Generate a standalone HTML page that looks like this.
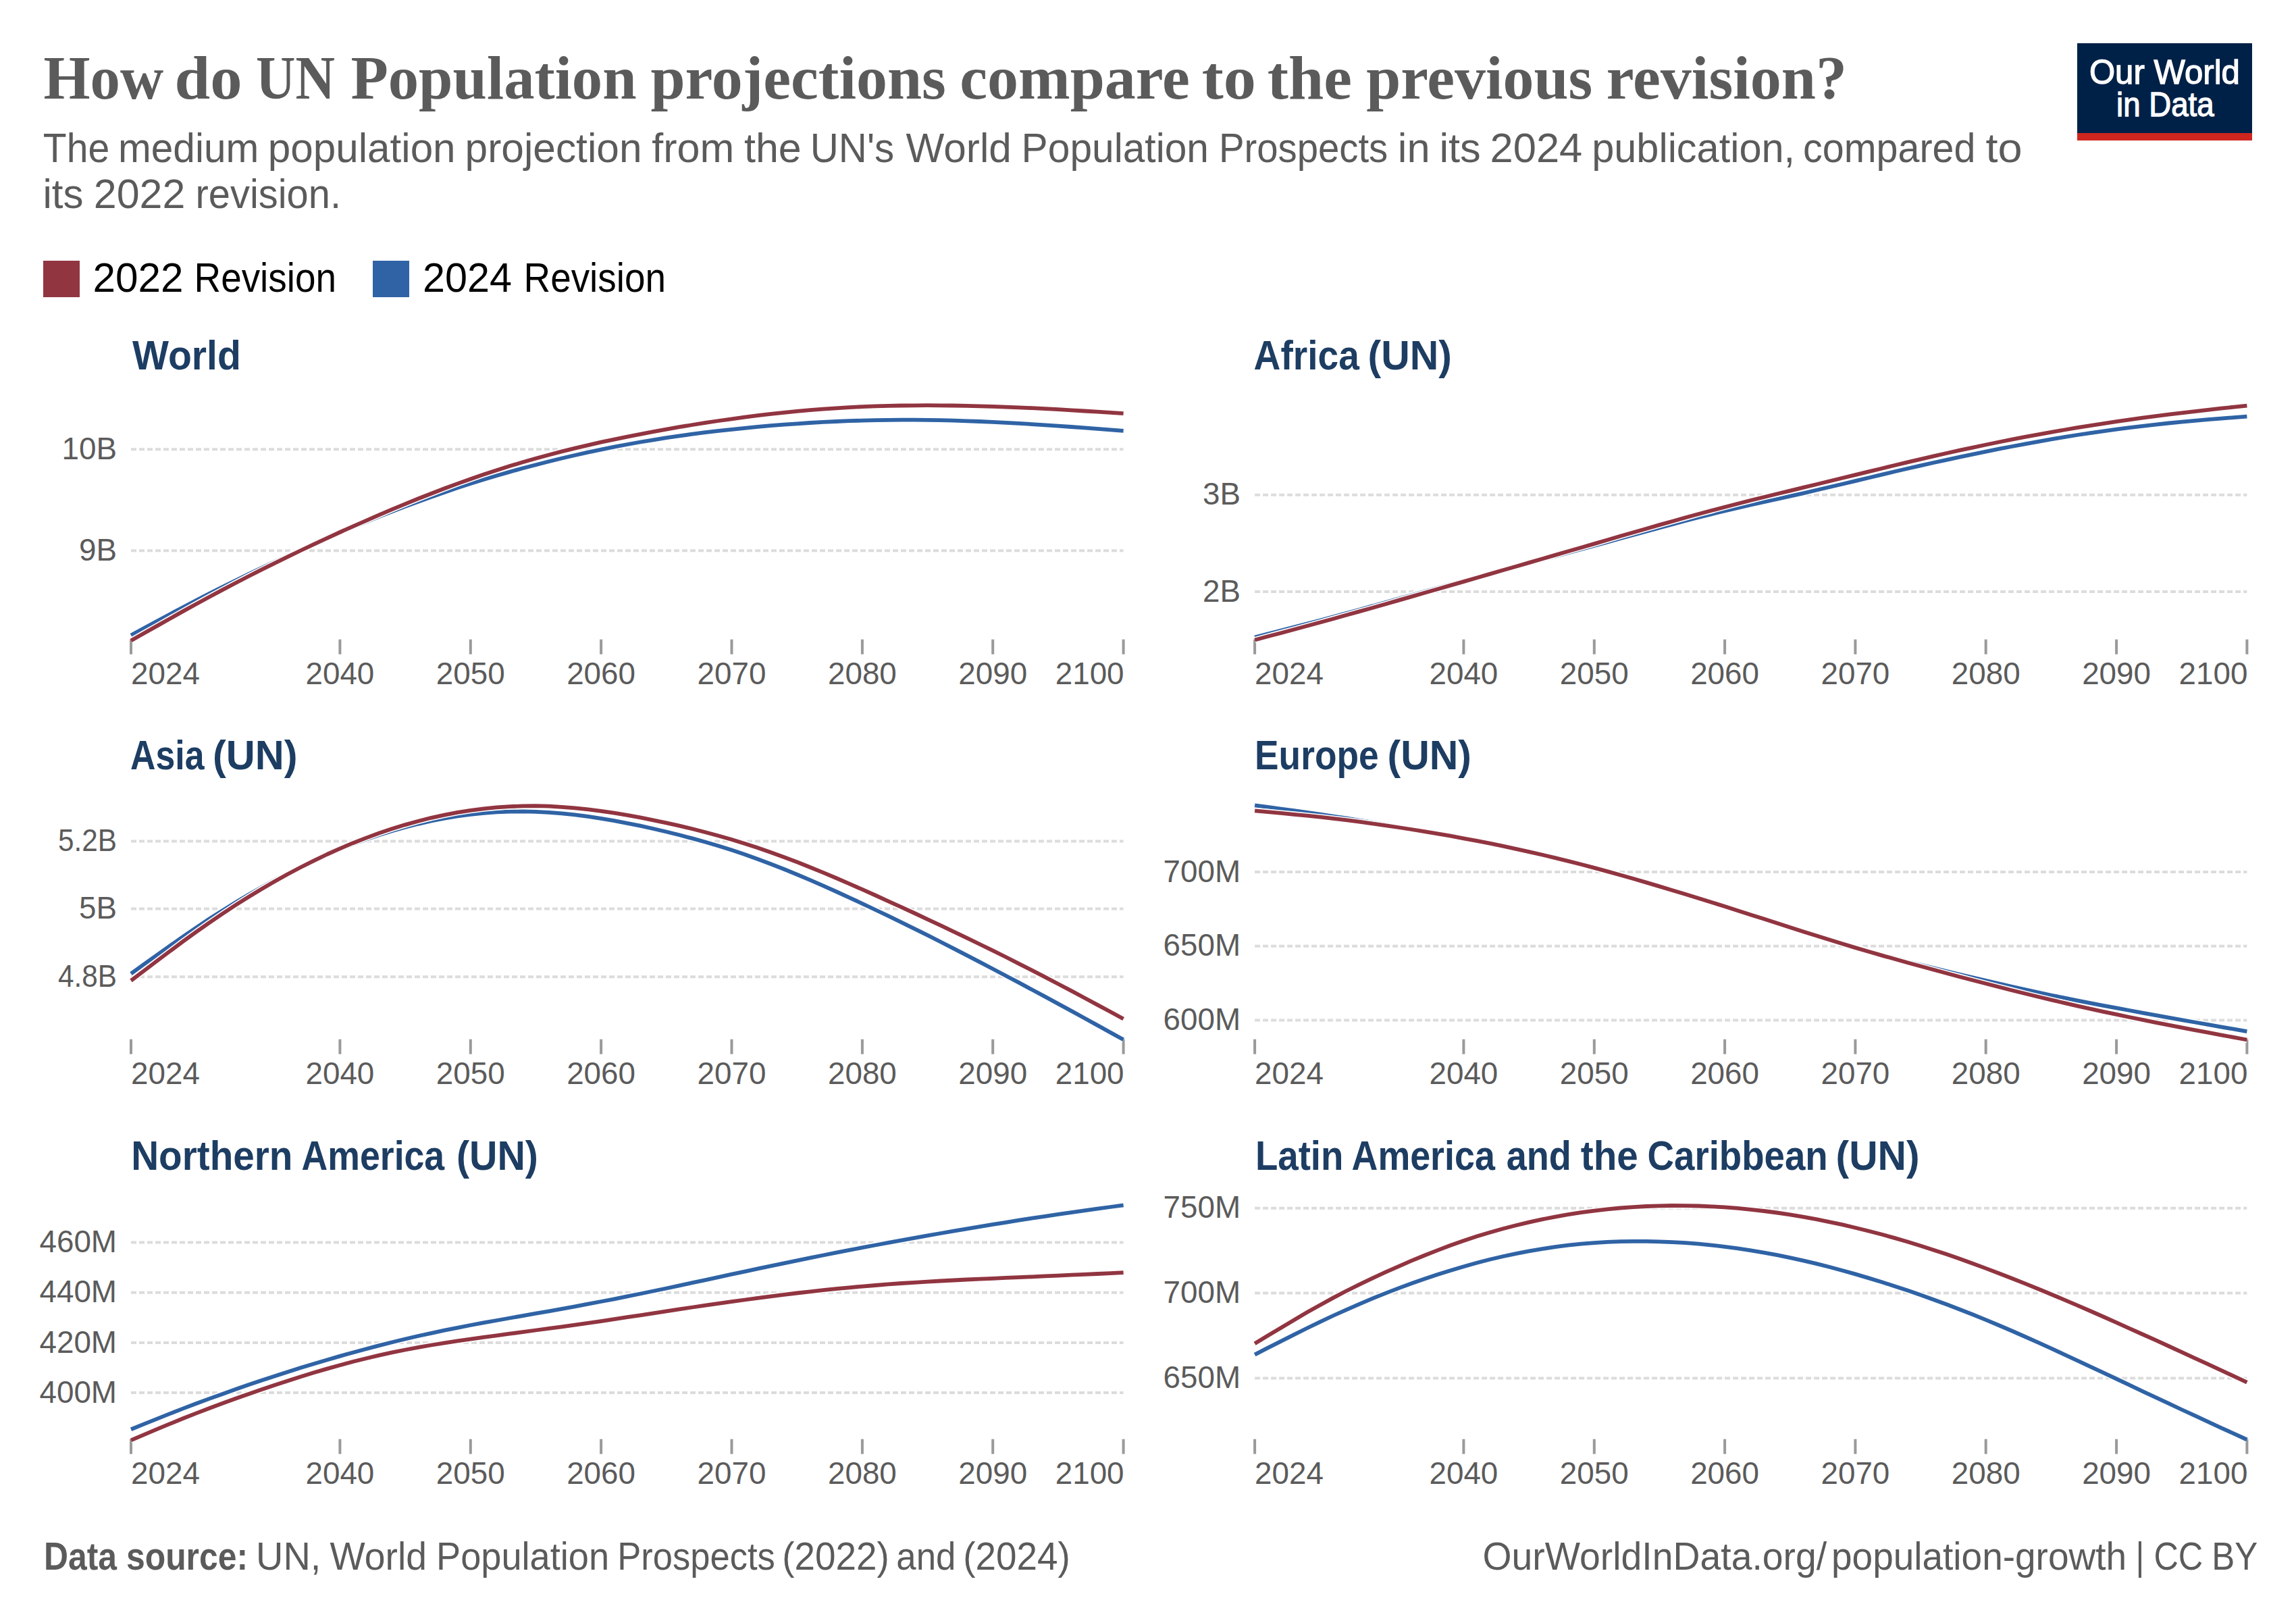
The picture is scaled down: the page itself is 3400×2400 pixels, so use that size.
<!DOCTYPE html><html><head><meta charset="utf-8"><style>html,body{margin:0;padding:0;background:#fff;width:3400px;height:2400px;overflow:hidden}svg{display:block}</style></head><body>
<svg width="3400" height="2400" viewBox="0 0 3400 2400" font-family="Liberation Sans, sans-serif">
<rect width="3400" height="2400" fill="#fff"/>
<text x="64.50" y="146.0" font-family="Liberation Serif, serif" font-weight="bold" font-size="92" fill="#5b5b5b" textLength="177.60" lengthAdjust="spacingAndGlyphs">How</text>
<text x="258.60" y="146.0" font-family="Liberation Serif, serif" font-weight="bold" font-size="92" fill="#5b5b5b" textLength="99.90" lengthAdjust="spacingAndGlyphs">do</text>
<text x="379.00" y="146.0" font-family="Liberation Serif, serif" font-weight="bold" font-size="92" fill="#5b5b5b" textLength="116.80" lengthAdjust="spacingAndGlyphs">UN</text>
<text x="519.40" y="146.0" font-family="Liberation Serif, serif" font-weight="bold" font-size="92" fill="#5b5b5b" textLength="423.20" lengthAdjust="spacingAndGlyphs">Population</text>
<text x="963.40" y="146.0" font-family="Liberation Serif, serif" font-weight="bold" font-size="92" fill="#5b5b5b" textLength="437.40" lengthAdjust="spacingAndGlyphs">projections</text>
<text x="1421.20" y="146.0" font-family="Liberation Serif, serif" font-weight="bold" font-size="92" fill="#5b5b5b" textLength="340.60" lengthAdjust="spacingAndGlyphs">compare</text>
<text x="1779.70" y="146.0" font-family="Liberation Serif, serif" font-weight="bold" font-size="92" fill="#5b5b5b" textLength="80.20" lengthAdjust="spacingAndGlyphs">to</text>
<text x="1876.70" y="146.0" font-family="Liberation Serif, serif" font-weight="bold" font-size="92" fill="#5b5b5b" textLength="125.20" lengthAdjust="spacingAndGlyphs">the</text>
<text x="2023.20" y="146.0" font-family="Liberation Serif, serif" font-weight="bold" font-size="92" fill="#5b5b5b" textLength="335.00" lengthAdjust="spacingAndGlyphs">previous</text>
<text x="2378.70" y="146.0" font-family="Liberation Serif, serif" font-weight="bold" font-size="92" fill="#5b5b5b" textLength="356.40" lengthAdjust="spacingAndGlyphs">revision?</text>
<text x="63.80" y="239.5" font-size="60.5" fill="#5b5b5b" textLength="98.40" lengthAdjust="spacingAndGlyphs">The</text>
<text x="175.00" y="239.5" font-size="60.5" fill="#5b5b5b" textLength="208.30" lengthAdjust="spacingAndGlyphs">medium</text>
<text x="396.80" y="239.5" font-size="60.5" fill="#5b5b5b" textLength="277.80" lengthAdjust="spacingAndGlyphs">population</text>
<text x="688.60" y="239.5" font-size="60.5" fill="#5b5b5b" textLength="261.90" lengthAdjust="spacingAndGlyphs">projection</text>
<text x="965.30" y="239.5" font-size="60.5" fill="#5b5b5b" textLength="121.90" lengthAdjust="spacingAndGlyphs">from</text>
<text x="1102.00" y="239.5" font-size="60.5" fill="#5b5b5b" textLength="84.80" lengthAdjust="spacingAndGlyphs">the</text>
<text x="1199.70" y="239.5" font-size="60.5" fill="#5b5b5b" textLength="124.50" lengthAdjust="spacingAndGlyphs">UN&#39;s</text>
<text x="1341.50" y="239.5" font-size="60.5" fill="#5b5b5b" textLength="156.30" lengthAdjust="spacingAndGlyphs">World</text>
<text x="1512.60" y="239.5" font-size="60.5" fill="#5b5b5b" textLength="277.40" lengthAdjust="spacingAndGlyphs">Population</text>
<text x="1804.90" y="239.5" font-size="60.5" fill="#5b5b5b" textLength="250.30" lengthAdjust="spacingAndGlyphs">Prospects</text>
<text x="2069.80" y="239.5" font-size="60.5" fill="#5b5b5b" textLength="47.80" lengthAdjust="spacingAndGlyphs">in</text>
<text x="2131.40" y="239.5" font-size="60.5" fill="#5b5b5b" textLength="61.30" lengthAdjust="spacingAndGlyphs">its</text>
<text x="2206.50" y="239.5" font-size="60.5" fill="#5b5b5b" textLength="136.80" lengthAdjust="spacingAndGlyphs">2024</text>
<text x="2357.20" y="239.5" font-size="60.5" fill="#5b5b5b" textLength="300.90" lengthAdjust="spacingAndGlyphs">publication,</text>
<text x="2670.10" y="239.5" font-size="60.5" fill="#5b5b5b" textLength="255.30" lengthAdjust="spacingAndGlyphs">compared</text>
<text x="2940.60" y="239.5" font-size="60.5" fill="#5b5b5b" textLength="54.10" lengthAdjust="spacingAndGlyphs">to</text>
<text x="63.40" y="308.4" font-size="60.5" fill="#5b5b5b" textLength="60.00" lengthAdjust="spacingAndGlyphs">its</text>
<text x="138.80" y="308.4" font-size="60.5" fill="#5b5b5b" textLength="135.60" lengthAdjust="spacingAndGlyphs">2022</text>
<text x="289.60" y="308.4" font-size="60.5" fill="#5b5b5b" textLength="215.40" lengthAdjust="spacingAndGlyphs">revision.</text>
<rect x="3076" y="64" width="259" height="133" fill="#002147"/>
<rect x="3076" y="197" width="259" height="11" fill="#ce261e"/>
<text x="3205.4" y="124" text-anchor="middle" font-size="50" font-weight="normal" fill="#fff" stroke="#fff" stroke-width="1.3" textLength="223" lengthAdjust="spacingAndGlyphs">Our World</text>
<text x="3206.3" y="172" text-anchor="middle" font-size="50" font-weight="normal" fill="#fff" stroke="#fff" stroke-width="1.3" textLength="144.5" lengthAdjust="spacingAndGlyphs">in Data</text>
<rect x="64" y="386" width="54" height="54" fill="#913541"/>
<text x="137.5" y="432" font-size="61" fill="#000" textLength="134" lengthAdjust="spacingAndGlyphs">2022</text>
<text x="287.5" y="432" font-size="61" fill="#000" textLength="210.5" lengthAdjust="spacingAndGlyphs">Revision</text>
<rect x="552" y="386" width="54" height="54" fill="#2f63a5"/>
<text x="626" y="432" font-size="61" fill="#000" textLength="132" lengthAdjust="spacingAndGlyphs">2024</text>
<text x="775.5" y="432" font-size="61" fill="#000" textLength="210.5" lengthAdjust="spacingAndGlyphs">Revision</text>
<line x1="194.0" y1="665.2" x2="1663.6" y2="665.2" stroke="#dcdcdc" stroke-width="4" stroke-dasharray="8,4"/>
<text x="173.0" y="679.8" text-anchor="end" font-size="45.8" fill="#5b5b5b">10B</text>
<line x1="194.0" y1="815.2" x2="1663.6" y2="815.2" stroke="#dcdcdc" stroke-width="4" stroke-dasharray="8,4"/>
<text x="173.0" y="829.8" text-anchor="end" font-size="45.8" fill="#5b5b5b">9B</text>
<rect x="192.0" y="946.7" width="4" height="22" fill="#9a9a9a"/>
<text x="194.0" y="1012.7" text-anchor="start" font-size="45.8" fill="#5b5b5b">2024</text>
<rect x="501.4" y="946.7" width="4" height="22" fill="#9a9a9a"/>
<text x="503.4" y="1012.7" text-anchor="middle" font-size="45.8" fill="#5b5b5b">2040</text>
<rect x="694.8" y="946.7" width="4" height="22" fill="#9a9a9a"/>
<text x="696.8" y="1012.7" text-anchor="middle" font-size="45.8" fill="#5b5b5b">2050</text>
<rect x="888.1" y="946.7" width="4" height="22" fill="#9a9a9a"/>
<text x="890.1" y="1012.7" text-anchor="middle" font-size="45.8" fill="#5b5b5b">2060</text>
<rect x="1081.5" y="946.7" width="4" height="22" fill="#9a9a9a"/>
<text x="1083.5" y="1012.7" text-anchor="middle" font-size="45.8" fill="#5b5b5b">2070</text>
<rect x="1274.9" y="946.7" width="4" height="22" fill="#9a9a9a"/>
<text x="1276.9" y="1012.7" text-anchor="middle" font-size="45.8" fill="#5b5b5b">2080</text>
<rect x="1468.2" y="946.7" width="4" height="22" fill="#9a9a9a"/>
<text x="1470.2" y="1012.7" text-anchor="middle" font-size="45.8" fill="#5b5b5b">2090</text>
<rect x="1661.6" y="946.7" width="4" height="22" fill="#9a9a9a"/>
<text x="1664.6" y="1012.7" text-anchor="end" font-size="45.8" fill="#5b5b5b">2100</text>
<path d="M194.0,940.5L213.3,930.0L232.7,919.6L252.0,909.2L271.3,899.0L290.7,888.8L310.0,878.9L329.4,869.1L348.7,859.5L368.0,850.2L387.4,840.9L406.7,831.8L426.0,822.9L445.4,814.2L464.7,805.5L484.1,797.1L503.4,788.8L522.7,780.7L542.1,772.7L561.4,764.9L580.7,757.3L600.1,749.9L619.4,742.7L638.7,735.7L658.1,728.9L677.4,722.3L696.8,716.1L716.1,710.0L735.4,704.2L754.8,698.6L774.1,693.3L793.4,688.2L812.8,683.2L832.1,678.5L851.5,674.0L870.8,669.7L890.1,665.6L909.5,661.7L928.8,658.0L948.1,654.5L967.5,651.3L986.8,648.2L1006.1,645.4L1025.5,642.7L1044.8,640.2L1064.2,637.9L1083.5,635.8L1102.8,633.8L1122.2,631.9L1141.5,630.2L1160.8,628.7L1180.2,627.3L1199.5,626.0L1218.9,624.9L1238.2,624.0L1257.5,623.2L1276.9,622.6L1296.2,622.1L1315.5,621.8L1334.9,621.7L1354.2,621.7L1373.5,621.9L1392.9,622.2L1412.2,622.7L1431.6,623.3L1450.9,624.0L1470.2,624.9L1489.6,625.8L1508.9,626.9L1528.2,628.1L1547.6,629.3L1566.9,630.6L1586.3,632.0L1605.6,633.4L1624.9,634.8L1644.3,636.3L1663.6,637.8" fill="none" stroke="#fff" stroke-width="9.0" stroke-linejoin="round"/>
<path d="M194.0,940.5L213.3,930.0L232.7,919.6L252.0,909.2L271.3,899.0L290.7,888.8L310.0,878.9L329.4,869.1L348.7,859.5L368.0,850.2L387.4,840.9L406.7,831.8L426.0,822.9L445.4,814.2L464.7,805.5L484.1,797.1L503.4,788.8L522.7,780.7L542.1,772.7L561.4,764.9L580.7,757.3L600.1,749.9L619.4,742.7L638.7,735.7L658.1,728.9L677.4,722.3L696.8,716.1L716.1,710.0L735.4,704.2L754.8,698.6L774.1,693.3L793.4,688.2L812.8,683.2L832.1,678.5L851.5,674.0L870.8,669.7L890.1,665.6L909.5,661.7L928.8,658.0L948.1,654.5L967.5,651.3L986.8,648.2L1006.1,645.4L1025.5,642.7L1044.8,640.2L1064.2,637.9L1083.5,635.8L1102.8,633.8L1122.2,631.9L1141.5,630.2L1160.8,628.7L1180.2,627.3L1199.5,626.0L1218.9,624.9L1238.2,624.0L1257.5,623.2L1276.9,622.6L1296.2,622.1L1315.5,621.8L1334.9,621.7L1354.2,621.7L1373.5,621.9L1392.9,622.2L1412.2,622.7L1431.6,623.3L1450.9,624.0L1470.2,624.9L1489.6,625.8L1508.9,626.9L1528.2,628.1L1547.6,629.3L1566.9,630.6L1586.3,632.0L1605.6,633.4L1624.9,634.8L1644.3,636.3L1663.6,637.8" fill="none" stroke="#2f63a5" stroke-width="5.8" stroke-linejoin="round"/>
<path d="M194.0,948.5L213.3,937.5L232.7,926.6L252.0,915.7L271.3,904.9L290.7,894.3L310.0,883.8L329.4,873.4L348.7,863.2L368.0,853.2L387.4,843.4L406.7,833.8L426.0,824.3L445.4,815.0L464.7,805.9L484.1,796.9L503.4,788.0L522.7,779.3L542.1,770.8L561.4,762.4L580.7,754.2L600.1,746.1L619.4,738.3L638.7,730.7L658.1,723.3L677.4,716.1L696.8,709.2L716.1,702.6L735.4,696.2L754.8,690.1L774.1,684.3L793.4,678.7L812.8,673.5L832.1,668.4L851.5,663.6L870.8,659.1L890.1,654.7L909.5,650.6L928.8,646.6L948.1,642.8L967.5,639.1L986.8,635.6L1006.1,632.2L1025.5,629.0L1044.8,625.9L1064.2,623.0L1083.5,620.3L1102.8,617.7L1122.2,615.2L1141.5,612.9L1160.8,610.8L1180.2,608.9L1199.5,607.1L1218.9,605.6L1238.2,604.3L1257.5,603.1L1276.9,602.2L1296.2,601.4L1315.5,600.9L1334.9,600.5L1354.2,600.3L1373.5,600.2L1392.9,600.3L1412.2,600.5L1431.6,600.9L1450.9,601.3L1470.2,601.9L1489.6,602.6L1508.9,603.4L1528.2,604.2L1547.6,605.2L1566.9,606.2L1586.3,607.3L1605.6,608.5L1624.9,609.7L1644.3,610.9L1663.6,612.2" fill="none" stroke="#fff" stroke-width="9.0" stroke-linejoin="round"/>
<path d="M194.0,948.5L213.3,937.5L232.7,926.6L252.0,915.7L271.3,904.9L290.7,894.3L310.0,883.8L329.4,873.4L348.7,863.2L368.0,853.2L387.4,843.4L406.7,833.8L426.0,824.3L445.4,815.0L464.7,805.9L484.1,796.9L503.4,788.0L522.7,779.3L542.1,770.8L561.4,762.4L580.7,754.2L600.1,746.1L619.4,738.3L638.7,730.7L658.1,723.3L677.4,716.1L696.8,709.2L716.1,702.6L735.4,696.2L754.8,690.1L774.1,684.3L793.4,678.7L812.8,673.5L832.1,668.4L851.5,663.6L870.8,659.1L890.1,654.7L909.5,650.6L928.8,646.6L948.1,642.8L967.5,639.1L986.8,635.6L1006.1,632.2L1025.5,629.0L1044.8,625.9L1064.2,623.0L1083.5,620.3L1102.8,617.7L1122.2,615.2L1141.5,612.9L1160.8,610.8L1180.2,608.9L1199.5,607.1L1218.9,605.6L1238.2,604.3L1257.5,603.1L1276.9,602.2L1296.2,601.4L1315.5,600.9L1334.9,600.5L1354.2,600.3L1373.5,600.2L1392.9,600.3L1412.2,600.5L1431.6,600.9L1450.9,601.3L1470.2,601.9L1489.6,602.6L1508.9,603.4L1528.2,604.2L1547.6,605.2L1566.9,606.2L1586.3,607.3L1605.6,608.5L1624.9,609.7L1644.3,610.9L1663.6,612.2" fill="none" stroke="#913541" stroke-width="5.8" stroke-linejoin="round"/>
<line x1="1858.1" y1="732.7" x2="3327.4" y2="732.7" stroke="#dcdcdc" stroke-width="4" stroke-dasharray="8,4"/>
<text x="1837.1" y="747.3" text-anchor="end" font-size="45.8" fill="#5b5b5b">3B</text>
<line x1="1858.1" y1="876.1" x2="3327.4" y2="876.1" stroke="#dcdcdc" stroke-width="4" stroke-dasharray="8,4"/>
<text x="1837.1" y="890.7" text-anchor="end" font-size="45.8" fill="#5b5b5b">2B</text>
<rect x="1856.1" y="946.7" width="4" height="22" fill="#9a9a9a"/>
<text x="1858.1" y="1012.7" text-anchor="start" font-size="45.8" fill="#5b5b5b">2024</text>
<rect x="2165.4" y="946.7" width="4" height="22" fill="#9a9a9a"/>
<text x="2167.4" y="1012.7" text-anchor="middle" font-size="45.8" fill="#5b5b5b">2040</text>
<rect x="2358.8" y="946.7" width="4" height="22" fill="#9a9a9a"/>
<text x="2360.8" y="1012.7" text-anchor="middle" font-size="45.8" fill="#5b5b5b">2050</text>
<rect x="2552.1" y="946.7" width="4" height="22" fill="#9a9a9a"/>
<text x="2554.1" y="1012.7" text-anchor="middle" font-size="45.8" fill="#5b5b5b">2060</text>
<rect x="2745.4" y="946.7" width="4" height="22" fill="#9a9a9a"/>
<text x="2747.4" y="1012.7" text-anchor="middle" font-size="45.8" fill="#5b5b5b">2070</text>
<rect x="2938.7" y="946.7" width="4" height="22" fill="#9a9a9a"/>
<text x="2940.7" y="1012.7" text-anchor="middle" font-size="45.8" fill="#5b5b5b">2080</text>
<rect x="3132.1" y="946.7" width="4" height="22" fill="#9a9a9a"/>
<text x="3134.1" y="1012.7" text-anchor="middle" font-size="45.8" fill="#5b5b5b">2090</text>
<rect x="3325.4" y="946.7" width="4" height="22" fill="#9a9a9a"/>
<text x="3328.4" y="1012.7" text-anchor="end" font-size="45.8" fill="#5b5b5b">2100</text>
<path d="M1858.1,943.6L1877.4,938.6L1896.8,933.6L1916.1,928.6L1935.4,923.6L1954.8,918.5L1974.1,913.3L1993.4,908.1L2012.8,902.8L2032.1,897.4L2051.4,892.0L2070.8,886.6L2090.1,881.2L2109.4,875.8L2128.8,870.5L2148.1,865.1L2167.4,859.8L2186.8,854.5L2206.1,849.3L2225.4,844.2L2244.8,839.0L2264.1,833.9L2283.4,828.7L2302.8,823.6L2322.1,818.4L2341.4,813.2L2360.8,808.0L2380.1,802.7L2399.4,797.3L2418.8,792.0L2438.1,786.6L2457.4,781.4L2476.8,776.1L2496.1,771.0L2515.4,766.0L2534.8,761.1L2554.1,756.4L2573.4,751.9L2592.8,747.5L2612.1,743.2L2631.4,739.0L2650.7,734.7L2670.1,730.3L2689.4,725.8L2708.7,721.3L2728.1,716.7L2747.4,712.1L2766.7,707.5L2786.1,702.9L2805.4,698.3L2824.7,693.8L2844.1,689.3L2863.4,685.0L2882.7,680.8L2902.1,676.6L2921.4,672.6L2940.7,668.6L2960.1,664.7L2979.4,661.0L2998.7,657.3L3018.1,653.8L3037.4,650.4L3056.7,647.1L3076.1,644.0L3095.4,641.1L3114.7,638.3L3134.1,635.6L3153.4,633.1L3172.7,630.8L3192.1,628.6L3211.4,626.5L3230.7,624.6L3250.1,622.8L3269.4,621.2L3288.7,619.6L3308.1,618.1L3327.4,616.6" fill="none" stroke="#fff" stroke-width="9.0" stroke-linejoin="round"/>
<path d="M1858.1,943.6L1877.4,938.6L1896.8,933.6L1916.1,928.6L1935.4,923.6L1954.8,918.5L1974.1,913.3L1993.4,908.1L2012.8,902.8L2032.1,897.4L2051.4,892.0L2070.8,886.6L2090.1,881.2L2109.4,875.8L2128.8,870.5L2148.1,865.1L2167.4,859.8L2186.8,854.5L2206.1,849.3L2225.4,844.2L2244.8,839.0L2264.1,833.9L2283.4,828.7L2302.8,823.6L2322.1,818.4L2341.4,813.2L2360.8,808.0L2380.1,802.7L2399.4,797.3L2418.8,792.0L2438.1,786.6L2457.4,781.4L2476.8,776.1L2496.1,771.0L2515.4,766.0L2534.8,761.1L2554.1,756.4L2573.4,751.9L2592.8,747.5L2612.1,743.2L2631.4,739.0L2650.7,734.7L2670.1,730.3L2689.4,725.8L2708.7,721.3L2728.1,716.7L2747.4,712.1L2766.7,707.5L2786.1,702.9L2805.4,698.3L2824.7,693.8L2844.1,689.3L2863.4,685.0L2882.7,680.8L2902.1,676.6L2921.4,672.6L2940.7,668.6L2960.1,664.7L2979.4,661.0L2998.7,657.3L3018.1,653.8L3037.4,650.4L3056.7,647.1L3076.1,644.0L3095.4,641.1L3114.7,638.3L3134.1,635.6L3153.4,633.1L3172.7,630.8L3192.1,628.6L3211.4,626.5L3230.7,624.6L3250.1,622.8L3269.4,621.2L3288.7,619.6L3308.1,618.1L3327.4,616.6" fill="none" stroke="#2f63a5" stroke-width="5.8" stroke-linejoin="round"/>
<path d="M1858.1,947.5L1877.4,942.3L1896.8,937.2L1916.1,932.0L1935.4,926.8L1954.8,921.5L1974.1,916.2L1993.4,910.8L2012.8,905.4L2032.1,900.0L2051.4,894.5L2070.8,888.9L2090.1,883.4L2109.4,877.8L2128.8,872.2L2148.1,866.6L2167.4,861.1L2186.8,855.5L2206.1,849.9L2225.4,844.3L2244.8,838.7L2264.1,833.1L2283.4,827.5L2302.8,821.9L2322.1,816.3L2341.4,810.7L2360.8,805.1L2380.1,799.5L2399.4,793.8L2418.8,788.2L2438.1,782.7L2457.4,777.1L2476.8,771.7L2496.1,766.3L2515.4,761.0L2534.8,755.8L2554.1,750.7L2573.4,745.7L2592.8,740.8L2612.1,736.0L2631.4,731.3L2650.7,726.6L2670.1,721.9L2689.4,717.2L2708.7,712.5L2728.1,707.8L2747.4,703.1L2766.7,698.4L2786.1,693.7L2805.4,689.0L2824.7,684.4L2844.1,679.9L2863.4,675.4L2882.7,671.0L2902.1,666.7L2921.4,662.6L2940.7,658.5L2960.1,654.5L2979.4,650.7L2998.7,646.9L3018.1,643.3L3037.4,639.8L3056.7,636.5L3076.1,633.2L3095.4,630.1L3114.7,627.1L3134.1,624.2L3153.4,621.4L3172.7,618.7L3192.1,616.1L3211.4,613.7L3230.7,611.3L3250.1,609.1L3269.4,606.9L3288.7,604.7L3308.1,602.6L3327.4,600.6" fill="none" stroke="#fff" stroke-width="9.0" stroke-linejoin="round"/>
<path d="M1858.1,947.5L1877.4,942.3L1896.8,937.2L1916.1,932.0L1935.4,926.8L1954.8,921.5L1974.1,916.2L1993.4,910.8L2012.8,905.4L2032.1,900.0L2051.4,894.5L2070.8,888.9L2090.1,883.4L2109.4,877.8L2128.8,872.2L2148.1,866.6L2167.4,861.1L2186.8,855.5L2206.1,849.9L2225.4,844.3L2244.8,838.7L2264.1,833.1L2283.4,827.5L2302.8,821.9L2322.1,816.3L2341.4,810.7L2360.8,805.1L2380.1,799.5L2399.4,793.8L2418.8,788.2L2438.1,782.7L2457.4,777.1L2476.8,771.7L2496.1,766.3L2515.4,761.0L2534.8,755.8L2554.1,750.7L2573.4,745.7L2592.8,740.8L2612.1,736.0L2631.4,731.3L2650.7,726.6L2670.1,721.9L2689.4,717.2L2708.7,712.5L2728.1,707.8L2747.4,703.1L2766.7,698.4L2786.1,693.7L2805.4,689.0L2824.7,684.4L2844.1,679.9L2863.4,675.4L2882.7,671.0L2902.1,666.7L2921.4,662.6L2940.7,658.5L2960.1,654.5L2979.4,650.7L2998.7,646.9L3018.1,643.3L3037.4,639.8L3056.7,636.5L3076.1,633.2L3095.4,630.1L3114.7,627.1L3134.1,624.2L3153.4,621.4L3172.7,618.7L3192.1,616.1L3211.4,613.7L3230.7,611.3L3250.1,609.1L3269.4,606.9L3288.7,604.7L3308.1,602.6L3327.4,600.6" fill="none" stroke="#913541" stroke-width="5.8" stroke-linejoin="round"/>
<line x1="194.0" y1="1245.4" x2="1663.6" y2="1245.4" stroke="#dcdcdc" stroke-width="4" stroke-dasharray="8,4"/>
<text x="173.0" y="1260.0" text-anchor="end" font-size="45.8" fill="#5b5b5b" textLength="87" lengthAdjust="spacingAndGlyphs">5.2B</text>
<line x1="194.0" y1="1345.6" x2="1663.6" y2="1345.6" stroke="#dcdcdc" stroke-width="4" stroke-dasharray="8,4"/>
<text x="173.0" y="1360.2" text-anchor="end" font-size="45.8" fill="#5b5b5b">5B</text>
<line x1="194.0" y1="1446.3" x2="1663.6" y2="1446.3" stroke="#dcdcdc" stroke-width="4" stroke-dasharray="8,4"/>
<text x="173.0" y="1460.9" text-anchor="end" font-size="45.8" fill="#5b5b5b" textLength="87" lengthAdjust="spacingAndGlyphs">4.8B</text>
<rect x="192.0" y="1538.7" width="4" height="22" fill="#9a9a9a"/>
<text x="194.0" y="1604.7" text-anchor="start" font-size="45.8" fill="#5b5b5b">2024</text>
<rect x="501.4" y="1538.7" width="4" height="22" fill="#9a9a9a"/>
<text x="503.4" y="1604.7" text-anchor="middle" font-size="45.8" fill="#5b5b5b">2040</text>
<rect x="694.8" y="1538.7" width="4" height="22" fill="#9a9a9a"/>
<text x="696.8" y="1604.7" text-anchor="middle" font-size="45.8" fill="#5b5b5b">2050</text>
<rect x="888.1" y="1538.7" width="4" height="22" fill="#9a9a9a"/>
<text x="890.1" y="1604.7" text-anchor="middle" font-size="45.8" fill="#5b5b5b">2060</text>
<rect x="1081.5" y="1538.7" width="4" height="22" fill="#9a9a9a"/>
<text x="1083.5" y="1604.7" text-anchor="middle" font-size="45.8" fill="#5b5b5b">2070</text>
<rect x="1274.9" y="1538.7" width="4" height="22" fill="#9a9a9a"/>
<text x="1276.9" y="1604.7" text-anchor="middle" font-size="45.8" fill="#5b5b5b">2080</text>
<rect x="1468.2" y="1538.7" width="4" height="22" fill="#9a9a9a"/>
<text x="1470.2" y="1604.7" text-anchor="middle" font-size="45.8" fill="#5b5b5b">2090</text>
<rect x="1661.6" y="1538.7" width="4" height="22" fill="#9a9a9a"/>
<text x="1664.6" y="1604.7" text-anchor="end" font-size="45.8" fill="#5b5b5b">2100</text>
<path d="M194.0,1441.6L213.3,1427.7L232.7,1413.8L252.0,1400.1L271.3,1386.6L290.7,1373.4L310.0,1360.5L329.4,1348.1L348.7,1336.2L368.0,1324.7L387.4,1313.7L406.7,1303.1L426.0,1293.0L445.4,1283.4L464.7,1274.3L484.1,1265.7L503.4,1257.5L522.7,1249.9L542.1,1242.8L561.4,1236.3L580.7,1230.2L600.1,1224.7L619.4,1219.8L638.7,1215.4L658.1,1211.6L677.4,1208.4L696.8,1205.8L716.1,1203.8L735.4,1202.4L754.8,1201.6L774.1,1201.4L793.4,1201.8L812.8,1202.8L832.1,1204.3L851.5,1206.4L870.8,1208.9L890.1,1211.8L909.5,1215.1L928.8,1218.8L948.1,1222.7L967.5,1227.0L986.8,1231.5L1006.1,1236.3L1025.5,1241.4L1044.8,1246.8L1064.2,1252.5L1083.5,1258.6L1102.8,1265.1L1122.2,1272.0L1141.5,1279.3L1160.8,1286.8L1180.2,1294.7L1199.5,1302.9L1218.9,1311.4L1238.2,1320.0L1257.5,1328.9L1276.9,1337.8L1296.2,1347.0L1315.5,1356.2L1334.9,1365.6L1354.2,1375.1L1373.5,1384.7L1392.9,1394.5L1412.2,1404.3L1431.6,1414.3L1450.9,1424.4L1470.2,1434.5L1489.6,1444.7L1508.9,1454.9L1528.2,1465.3L1547.6,1475.6L1566.9,1486.1L1586.3,1496.6L1605.6,1507.2L1624.9,1517.9L1644.3,1528.6L1663.6,1539.3" fill="none" stroke="#fff" stroke-width="9.0" stroke-linejoin="round"/>
<path d="M194.0,1441.6L213.3,1427.7L232.7,1413.8L252.0,1400.1L271.3,1386.6L290.7,1373.4L310.0,1360.5L329.4,1348.1L348.7,1336.2L368.0,1324.7L387.4,1313.7L406.7,1303.1L426.0,1293.0L445.4,1283.4L464.7,1274.3L484.1,1265.7L503.4,1257.5L522.7,1249.9L542.1,1242.8L561.4,1236.3L580.7,1230.2L600.1,1224.7L619.4,1219.8L638.7,1215.4L658.1,1211.6L677.4,1208.4L696.8,1205.8L716.1,1203.8L735.4,1202.4L754.8,1201.6L774.1,1201.4L793.4,1201.8L812.8,1202.8L832.1,1204.3L851.5,1206.4L870.8,1208.9L890.1,1211.8L909.5,1215.1L928.8,1218.8L948.1,1222.7L967.5,1227.0L986.8,1231.5L1006.1,1236.3L1025.5,1241.4L1044.8,1246.8L1064.2,1252.5L1083.5,1258.6L1102.8,1265.1L1122.2,1272.0L1141.5,1279.3L1160.8,1286.8L1180.2,1294.7L1199.5,1302.9L1218.9,1311.4L1238.2,1320.0L1257.5,1328.9L1276.9,1337.8L1296.2,1347.0L1315.5,1356.2L1334.9,1365.6L1354.2,1375.1L1373.5,1384.7L1392.9,1394.5L1412.2,1404.3L1431.6,1414.3L1450.9,1424.4L1470.2,1434.5L1489.6,1444.7L1508.9,1454.9L1528.2,1465.3L1547.6,1475.6L1566.9,1486.1L1586.3,1496.6L1605.6,1507.2L1624.9,1517.9L1644.3,1528.6L1663.6,1539.3" fill="none" stroke="#2f63a5" stroke-width="5.8" stroke-linejoin="round"/>
<path d="M194.0,1451.9L213.3,1437.2L232.7,1422.5L252.0,1408.0L271.3,1393.7L290.7,1379.7L310.0,1366.1L329.4,1352.9L348.7,1340.2L368.0,1328.0L387.4,1316.2L406.7,1305.0L426.0,1294.2L445.4,1284.0L464.7,1274.3L484.1,1265.0L503.4,1256.4L522.7,1248.2L542.1,1240.6L561.4,1233.5L580.7,1227.0L600.1,1221.1L619.4,1215.7L638.7,1210.8L658.1,1206.6L677.4,1202.9L696.8,1199.8L716.1,1197.3L735.4,1195.4L754.8,1194.1L774.1,1193.4L793.4,1193.2L812.8,1193.7L832.1,1194.8L851.5,1196.3L870.8,1198.4L890.1,1200.8L909.5,1203.7L928.8,1206.9L948.1,1210.4L967.5,1214.3L986.8,1218.4L1006.1,1222.7L1025.5,1227.3L1044.8,1232.2L1064.2,1237.5L1083.5,1243.0L1102.8,1249.0L1122.2,1255.3L1141.5,1262.0L1160.8,1269.0L1180.2,1276.3L1199.5,1284.0L1218.9,1291.9L1238.2,1300.0L1257.5,1308.4L1276.9,1316.9L1296.2,1325.5L1315.5,1334.3L1334.9,1343.1L1354.2,1352.0L1373.5,1361.1L1392.9,1370.2L1412.2,1379.3L1431.6,1388.6L1450.9,1398.0L1470.2,1407.4L1489.6,1417.0L1508.9,1426.8L1528.2,1436.6L1547.6,1446.6L1566.9,1456.7L1586.3,1466.9L1605.6,1477.2L1624.9,1487.6L1644.3,1498.0L1663.6,1508.5" fill="none" stroke="#fff" stroke-width="9.0" stroke-linejoin="round"/>
<path d="M194.0,1451.9L213.3,1437.2L232.7,1422.5L252.0,1408.0L271.3,1393.7L290.7,1379.7L310.0,1366.1L329.4,1352.9L348.7,1340.2L368.0,1328.0L387.4,1316.2L406.7,1305.0L426.0,1294.2L445.4,1284.0L464.7,1274.3L484.1,1265.0L503.4,1256.4L522.7,1248.2L542.1,1240.6L561.4,1233.5L580.7,1227.0L600.1,1221.1L619.4,1215.7L638.7,1210.8L658.1,1206.6L677.4,1202.9L696.8,1199.8L716.1,1197.3L735.4,1195.4L754.8,1194.1L774.1,1193.4L793.4,1193.2L812.8,1193.7L832.1,1194.8L851.5,1196.3L870.8,1198.4L890.1,1200.8L909.5,1203.7L928.8,1206.9L948.1,1210.4L967.5,1214.3L986.8,1218.4L1006.1,1222.7L1025.5,1227.3L1044.8,1232.2L1064.2,1237.5L1083.5,1243.0L1102.8,1249.0L1122.2,1255.3L1141.5,1262.0L1160.8,1269.0L1180.2,1276.3L1199.5,1284.0L1218.9,1291.9L1238.2,1300.0L1257.5,1308.4L1276.9,1316.9L1296.2,1325.5L1315.5,1334.3L1334.9,1343.1L1354.2,1352.0L1373.5,1361.1L1392.9,1370.2L1412.2,1379.3L1431.6,1388.6L1450.9,1398.0L1470.2,1407.4L1489.6,1417.0L1508.9,1426.8L1528.2,1436.6L1547.6,1446.6L1566.9,1456.7L1586.3,1466.9L1605.6,1477.2L1624.9,1487.6L1644.3,1498.0L1663.6,1508.5" fill="none" stroke="#913541" stroke-width="5.8" stroke-linejoin="round"/>
<line x1="1858.1" y1="1291.1" x2="3327.4" y2="1291.1" stroke="#dcdcdc" stroke-width="4" stroke-dasharray="8,4"/>
<text x="1837.1" y="1305.7" text-anchor="end" font-size="45.8" fill="#5b5b5b">700M</text>
<line x1="1858.1" y1="1400.8" x2="3327.4" y2="1400.8" stroke="#dcdcdc" stroke-width="4" stroke-dasharray="8,4"/>
<text x="1837.1" y="1415.4" text-anchor="end" font-size="45.8" fill="#5b5b5b">650M</text>
<line x1="1858.1" y1="1510.6" x2="3327.4" y2="1510.6" stroke="#dcdcdc" stroke-width="4" stroke-dasharray="8,4"/>
<text x="1837.1" y="1525.2" text-anchor="end" font-size="45.8" fill="#5b5b5b">600M</text>
<rect x="1856.1" y="1538.7" width="4" height="22" fill="#9a9a9a"/>
<text x="1858.1" y="1604.7" text-anchor="start" font-size="45.8" fill="#5b5b5b">2024</text>
<rect x="2165.4" y="1538.7" width="4" height="22" fill="#9a9a9a"/>
<text x="2167.4" y="1604.7" text-anchor="middle" font-size="45.8" fill="#5b5b5b">2040</text>
<rect x="2358.8" y="1538.7" width="4" height="22" fill="#9a9a9a"/>
<text x="2360.8" y="1604.7" text-anchor="middle" font-size="45.8" fill="#5b5b5b">2050</text>
<rect x="2552.1" y="1538.7" width="4" height="22" fill="#9a9a9a"/>
<text x="2554.1" y="1604.7" text-anchor="middle" font-size="45.8" fill="#5b5b5b">2060</text>
<rect x="2745.4" y="1538.7" width="4" height="22" fill="#9a9a9a"/>
<text x="2747.4" y="1604.7" text-anchor="middle" font-size="45.8" fill="#5b5b5b">2070</text>
<rect x="2938.7" y="1538.7" width="4" height="22" fill="#9a9a9a"/>
<text x="2940.7" y="1604.7" text-anchor="middle" font-size="45.8" fill="#5b5b5b">2080</text>
<rect x="3132.1" y="1538.7" width="4" height="22" fill="#9a9a9a"/>
<text x="3134.1" y="1604.7" text-anchor="middle" font-size="45.8" fill="#5b5b5b">2090</text>
<rect x="3325.4" y="1538.7" width="4" height="22" fill="#9a9a9a"/>
<text x="3328.4" y="1604.7" text-anchor="end" font-size="45.8" fill="#5b5b5b">2100</text>
<path d="M1858.1,1192.3L1877.4,1194.9L1896.8,1197.5L1916.1,1200.1L1935.4,1202.8L1954.8,1205.6L1974.1,1208.5L1993.4,1211.4L2012.8,1214.5L2032.1,1217.6L2051.4,1220.8L2070.8,1224.0L2090.1,1227.4L2109.4,1230.7L2128.8,1234.2L2148.1,1237.7L2167.4,1241.3L2186.8,1245.0L2206.1,1248.8L2225.4,1252.8L2244.8,1256.9L2264.1,1261.2L2283.4,1265.6L2302.8,1270.2L2322.1,1274.9L2341.4,1279.9L2360.8,1284.9L2380.1,1290.2L2399.4,1295.5L2418.8,1301.0L2438.1,1306.6L2457.4,1312.4L2476.8,1318.2L2496.1,1324.1L2515.4,1330.0L2534.8,1336.1L2554.1,1342.2L2573.4,1348.3L2592.8,1354.5L2612.1,1360.7L2631.4,1366.9L2650.7,1373.0L2670.1,1379.2L2689.4,1385.2L2708.7,1391.2L2728.1,1397.0L2747.4,1402.6L2766.7,1408.1L2786.1,1413.5L2805.4,1418.6L2824.7,1423.7L2844.1,1428.6L2863.4,1433.4L2882.7,1438.1L2902.1,1442.8L2921.4,1447.4L2940.7,1451.9L2960.1,1456.4L2979.4,1460.8L2998.7,1465.1L3018.1,1469.3L3037.4,1473.5L3056.7,1477.4L3076.1,1481.3L3095.4,1485.1L3114.7,1488.8L3134.1,1492.4L3153.4,1496.0L3172.7,1499.6L3192.1,1503.1L3211.4,1506.6L3230.7,1510.1L3250.1,1513.5L3269.4,1516.9L3288.7,1520.3L3308.1,1523.7L3327.4,1527.1" fill="none" stroke="#fff" stroke-width="9.0" stroke-linejoin="round"/>
<path d="M1858.1,1192.3L1877.4,1194.9L1896.8,1197.5L1916.1,1200.1L1935.4,1202.8L1954.8,1205.6L1974.1,1208.5L1993.4,1211.4L2012.8,1214.5L2032.1,1217.6L2051.4,1220.8L2070.8,1224.0L2090.1,1227.4L2109.4,1230.7L2128.8,1234.2L2148.1,1237.7L2167.4,1241.3L2186.8,1245.0L2206.1,1248.8L2225.4,1252.8L2244.8,1256.9L2264.1,1261.2L2283.4,1265.6L2302.8,1270.2L2322.1,1274.9L2341.4,1279.9L2360.8,1284.9L2380.1,1290.2L2399.4,1295.5L2418.8,1301.0L2438.1,1306.6L2457.4,1312.4L2476.8,1318.2L2496.1,1324.1L2515.4,1330.0L2534.8,1336.1L2554.1,1342.2L2573.4,1348.3L2592.8,1354.5L2612.1,1360.7L2631.4,1366.9L2650.7,1373.0L2670.1,1379.2L2689.4,1385.2L2708.7,1391.2L2728.1,1397.0L2747.4,1402.6L2766.7,1408.1L2786.1,1413.5L2805.4,1418.6L2824.7,1423.7L2844.1,1428.6L2863.4,1433.4L2882.7,1438.1L2902.1,1442.8L2921.4,1447.4L2940.7,1451.9L2960.1,1456.4L2979.4,1460.8L2998.7,1465.1L3018.1,1469.3L3037.4,1473.5L3056.7,1477.4L3076.1,1481.3L3095.4,1485.1L3114.7,1488.8L3134.1,1492.4L3153.4,1496.0L3172.7,1499.6L3192.1,1503.1L3211.4,1506.6L3230.7,1510.1L3250.1,1513.5L3269.4,1516.9L3288.7,1520.3L3308.1,1523.7L3327.4,1527.1" fill="none" stroke="#2f63a5" stroke-width="5.8" stroke-linejoin="round"/>
<path d="M1858.1,1200.4L1877.4,1202.1L1896.8,1203.9L1916.1,1205.8L1935.4,1207.7L1954.8,1209.7L1974.1,1211.9L1993.4,1214.2L2012.8,1216.7L2032.1,1219.3L2051.4,1222.1L2070.8,1225.0L2090.1,1228.0L2109.4,1231.1L2128.8,1234.3L2148.1,1237.7L2167.4,1241.3L2186.8,1244.9L2206.1,1248.7L2225.4,1252.7L2244.8,1256.8L2264.1,1261.1L2283.4,1265.5L2302.8,1270.1L2322.1,1274.9L2341.4,1279.8L2360.8,1284.9L2380.1,1290.1L2399.4,1295.5L2418.8,1301.0L2438.1,1306.6L2457.4,1312.4L2476.8,1318.2L2496.1,1324.0L2515.4,1330.0L2534.8,1336.0L2554.1,1342.1L2573.4,1348.2L2592.8,1354.4L2612.1,1360.6L2631.4,1366.8L2650.7,1373.0L2670.1,1379.2L2689.4,1385.3L2708.7,1391.3L2728.1,1397.3L2747.4,1403.1L2766.7,1408.8L2786.1,1414.4L2805.4,1419.8L2824.7,1425.2L2844.1,1430.5L2863.4,1435.8L2882.7,1441.0L2902.1,1446.2L2921.4,1451.3L2940.7,1456.3L2960.1,1461.3L2979.4,1466.2L2998.7,1471.0L3018.1,1475.8L3037.4,1480.4L3056.7,1484.9L3076.1,1489.3L3095.4,1493.6L3114.7,1497.8L3134.1,1501.9L3153.4,1506.0L3172.7,1509.9L3192.1,1513.8L3211.4,1517.6L3230.7,1521.4L3250.1,1525.1L3269.4,1528.7L3288.7,1532.3L3308.1,1535.9L3327.4,1539.5" fill="none" stroke="#fff" stroke-width="9.0" stroke-linejoin="round"/>
<path d="M1858.1,1200.4L1877.4,1202.1L1896.8,1203.9L1916.1,1205.8L1935.4,1207.7L1954.8,1209.7L1974.1,1211.9L1993.4,1214.2L2012.8,1216.7L2032.1,1219.3L2051.4,1222.1L2070.8,1225.0L2090.1,1228.0L2109.4,1231.1L2128.8,1234.3L2148.1,1237.7L2167.4,1241.3L2186.8,1244.9L2206.1,1248.7L2225.4,1252.7L2244.8,1256.8L2264.1,1261.1L2283.4,1265.5L2302.8,1270.1L2322.1,1274.9L2341.4,1279.8L2360.8,1284.9L2380.1,1290.1L2399.4,1295.5L2418.8,1301.0L2438.1,1306.6L2457.4,1312.4L2476.8,1318.2L2496.1,1324.0L2515.4,1330.0L2534.8,1336.0L2554.1,1342.1L2573.4,1348.2L2592.8,1354.4L2612.1,1360.6L2631.4,1366.8L2650.7,1373.0L2670.1,1379.2L2689.4,1385.3L2708.7,1391.3L2728.1,1397.3L2747.4,1403.1L2766.7,1408.8L2786.1,1414.4L2805.4,1419.8L2824.7,1425.2L2844.1,1430.5L2863.4,1435.8L2882.7,1441.0L2902.1,1446.2L2921.4,1451.3L2940.7,1456.3L2960.1,1461.3L2979.4,1466.2L2998.7,1471.0L3018.1,1475.8L3037.4,1480.4L3056.7,1484.9L3076.1,1489.3L3095.4,1493.6L3114.7,1497.8L3134.1,1501.9L3153.4,1506.0L3172.7,1509.9L3192.1,1513.8L3211.4,1517.6L3230.7,1521.4L3250.1,1525.1L3269.4,1528.7L3288.7,1532.3L3308.1,1535.9L3327.4,1539.5" fill="none" stroke="#913541" stroke-width="5.8" stroke-linejoin="round"/>
<line x1="194.0" y1="1839.5" x2="1663.6" y2="1839.5" stroke="#dcdcdc" stroke-width="4" stroke-dasharray="8,4"/>
<text x="173.0" y="1854.1" text-anchor="end" font-size="45.8" fill="#5b5b5b">460M</text>
<line x1="194.0" y1="1913.7" x2="1663.6" y2="1913.7" stroke="#dcdcdc" stroke-width="4" stroke-dasharray="8,4"/>
<text x="173.0" y="1928.3" text-anchor="end" font-size="45.8" fill="#5b5b5b">440M</text>
<line x1="194.0" y1="1988.0" x2="1663.6" y2="1988.0" stroke="#dcdcdc" stroke-width="4" stroke-dasharray="8,4"/>
<text x="173.0" y="2002.6" text-anchor="end" font-size="45.8" fill="#5b5b5b">420M</text>
<line x1="194.0" y1="2062.1" x2="1663.6" y2="2062.1" stroke="#dcdcdc" stroke-width="4" stroke-dasharray="8,4"/>
<text x="173.0" y="2076.7" text-anchor="end" font-size="45.8" fill="#5b5b5b">400M</text>
<rect x="192.0" y="2130.7" width="4" height="22" fill="#9a9a9a"/>
<text x="194.0" y="2196.7" text-anchor="start" font-size="45.8" fill="#5b5b5b">2024</text>
<rect x="501.4" y="2130.7" width="4" height="22" fill="#9a9a9a"/>
<text x="503.4" y="2196.7" text-anchor="middle" font-size="45.8" fill="#5b5b5b">2040</text>
<rect x="694.8" y="2130.7" width="4" height="22" fill="#9a9a9a"/>
<text x="696.8" y="2196.7" text-anchor="middle" font-size="45.8" fill="#5b5b5b">2050</text>
<rect x="888.1" y="2130.7" width="4" height="22" fill="#9a9a9a"/>
<text x="890.1" y="2196.7" text-anchor="middle" font-size="45.8" fill="#5b5b5b">2060</text>
<rect x="1081.5" y="2130.7" width="4" height="22" fill="#9a9a9a"/>
<text x="1083.5" y="2196.7" text-anchor="middle" font-size="45.8" fill="#5b5b5b">2070</text>
<rect x="1274.9" y="2130.7" width="4" height="22" fill="#9a9a9a"/>
<text x="1276.9" y="2196.7" text-anchor="middle" font-size="45.8" fill="#5b5b5b">2080</text>
<rect x="1468.2" y="2130.7" width="4" height="22" fill="#9a9a9a"/>
<text x="1470.2" y="2196.7" text-anchor="middle" font-size="45.8" fill="#5b5b5b">2090</text>
<rect x="1661.6" y="2130.7" width="4" height="22" fill="#9a9a9a"/>
<text x="1664.6" y="2196.7" text-anchor="end" font-size="45.8" fill="#5b5b5b">2100</text>
<path d="M194.0,2116.3L213.3,2108.4L232.7,2100.6L252.0,2092.9L271.3,2085.4L290.7,2078.0L310.0,2070.9L329.4,2063.9L348.7,2057.0L368.0,2050.3L387.4,2043.8L406.7,2037.4L426.0,2031.2L445.4,2025.1L464.7,2019.3L484.1,2013.5L503.4,2007.9L522.7,2002.5L542.1,1997.2L561.4,1992.1L580.7,1987.2L600.1,1982.5L619.4,1978.0L638.7,1973.8L658.1,1969.7L677.4,1965.8L696.8,1962.0L716.1,1958.4L735.4,1955.0L754.8,1951.5L774.1,1948.1L793.4,1944.7L812.8,1941.3L832.1,1937.8L851.5,1934.3L870.8,1930.7L890.1,1927.0L909.5,1923.3L928.8,1919.4L948.1,1915.5L967.5,1911.5L986.8,1907.5L1006.1,1903.4L1025.5,1899.2L1044.8,1895.1L1064.2,1890.9L1083.5,1886.7L1102.8,1882.6L1122.2,1878.4L1141.5,1874.4L1160.8,1870.3L1180.2,1866.4L1199.5,1862.4L1218.9,1858.5L1238.2,1854.7L1257.5,1850.9L1276.9,1847.2L1296.2,1843.5L1315.5,1839.9L1334.9,1836.3L1354.2,1832.8L1373.5,1829.4L1392.9,1826.0L1412.2,1822.6L1431.6,1819.3L1450.9,1816.1L1470.2,1812.9L1489.6,1809.8L1508.9,1806.7L1528.2,1803.7L1547.6,1800.8L1566.9,1797.9L1586.3,1795.1L1605.6,1792.4L1624.9,1789.6L1644.3,1787.0L1663.6,1784.3" fill="none" stroke="#fff" stroke-width="9.0" stroke-linejoin="round"/>
<path d="M194.0,2116.3L213.3,2108.4L232.7,2100.6L252.0,2092.9L271.3,2085.4L290.7,2078.0L310.0,2070.9L329.4,2063.9L348.7,2057.0L368.0,2050.3L387.4,2043.8L406.7,2037.4L426.0,2031.2L445.4,2025.1L464.7,2019.3L484.1,2013.5L503.4,2007.9L522.7,2002.5L542.1,1997.2L561.4,1992.1L580.7,1987.2L600.1,1982.5L619.4,1978.0L638.7,1973.8L658.1,1969.7L677.4,1965.8L696.8,1962.0L716.1,1958.4L735.4,1955.0L754.8,1951.5L774.1,1948.1L793.4,1944.7L812.8,1941.3L832.1,1937.8L851.5,1934.3L870.8,1930.7L890.1,1927.0L909.5,1923.3L928.8,1919.4L948.1,1915.5L967.5,1911.5L986.8,1907.5L1006.1,1903.4L1025.5,1899.2L1044.8,1895.1L1064.2,1890.9L1083.5,1886.7L1102.8,1882.6L1122.2,1878.4L1141.5,1874.4L1160.8,1870.3L1180.2,1866.4L1199.5,1862.4L1218.9,1858.5L1238.2,1854.7L1257.5,1850.9L1276.9,1847.2L1296.2,1843.5L1315.5,1839.9L1334.9,1836.3L1354.2,1832.8L1373.5,1829.4L1392.9,1826.0L1412.2,1822.6L1431.6,1819.3L1450.9,1816.1L1470.2,1812.9L1489.6,1809.8L1508.9,1806.7L1528.2,1803.7L1547.6,1800.8L1566.9,1797.9L1586.3,1795.1L1605.6,1792.4L1624.9,1789.6L1644.3,1787.0L1663.6,1784.3" fill="none" stroke="#2f63a5" stroke-width="5.8" stroke-linejoin="round"/>
<path d="M194.0,2132.3L213.3,2124.1L232.7,2115.9L252.0,2107.9L271.3,2100.0L290.7,2092.4L310.0,2085.0L329.4,2077.8L348.7,2070.7L368.0,2063.9L387.4,2057.2L406.7,2050.7L426.0,2044.4L445.4,2038.3L464.7,2032.3L484.1,2026.6L503.4,2021.2L522.7,2016.0L542.1,2011.2L561.4,2006.6L580.7,2002.4L600.1,1998.5L619.4,1994.9L638.7,1991.5L658.1,1988.4L677.4,1985.4L696.8,1982.6L716.1,1979.9L735.4,1977.3L754.8,1974.7L774.1,1972.1L793.4,1969.5L812.8,1966.9L832.1,1964.3L851.5,1961.6L870.8,1958.9L890.1,1956.1L909.5,1953.2L928.8,1950.2L948.1,1947.3L967.5,1944.3L986.8,1941.4L1006.1,1938.4L1025.5,1935.5L1044.8,1932.7L1064.2,1929.9L1083.5,1927.2L1102.8,1924.5L1122.2,1921.8L1141.5,1919.3L1160.8,1916.9L1180.2,1914.5L1199.5,1912.3L1218.9,1910.2L1238.2,1908.2L1257.5,1906.3L1276.9,1904.6L1296.2,1903.0L1315.5,1901.4L1334.9,1900.0L1354.2,1898.8L1373.5,1897.6L1392.9,1896.5L1412.2,1895.5L1431.6,1894.5L1450.9,1893.6L1470.2,1892.8L1489.6,1891.9L1508.9,1891.1L1528.2,1890.3L1547.6,1889.4L1566.9,1888.6L1586.3,1887.7L1605.6,1886.9L1624.9,1886.0L1644.3,1885.1L1663.6,1884.2" fill="none" stroke="#fff" stroke-width="9.0" stroke-linejoin="round"/>
<path d="M194.0,2132.3L213.3,2124.1L232.7,2115.9L252.0,2107.9L271.3,2100.0L290.7,2092.4L310.0,2085.0L329.4,2077.8L348.7,2070.7L368.0,2063.9L387.4,2057.2L406.7,2050.7L426.0,2044.4L445.4,2038.3L464.7,2032.3L484.1,2026.6L503.4,2021.2L522.7,2016.0L542.1,2011.2L561.4,2006.6L580.7,2002.4L600.1,1998.5L619.4,1994.9L638.7,1991.5L658.1,1988.4L677.4,1985.4L696.8,1982.6L716.1,1979.9L735.4,1977.3L754.8,1974.7L774.1,1972.1L793.4,1969.5L812.8,1966.9L832.1,1964.3L851.5,1961.6L870.8,1958.9L890.1,1956.1L909.5,1953.2L928.8,1950.2L948.1,1947.3L967.5,1944.3L986.8,1941.4L1006.1,1938.4L1025.5,1935.5L1044.8,1932.7L1064.2,1929.9L1083.5,1927.2L1102.8,1924.5L1122.2,1921.8L1141.5,1919.3L1160.8,1916.9L1180.2,1914.5L1199.5,1912.3L1218.9,1910.2L1238.2,1908.2L1257.5,1906.3L1276.9,1904.6L1296.2,1903.0L1315.5,1901.4L1334.9,1900.0L1354.2,1898.8L1373.5,1897.6L1392.9,1896.5L1412.2,1895.5L1431.6,1894.5L1450.9,1893.6L1470.2,1892.8L1489.6,1891.9L1508.9,1891.1L1528.2,1890.3L1547.6,1889.4L1566.9,1888.6L1586.3,1887.7L1605.6,1886.9L1624.9,1886.0L1644.3,1885.1L1663.6,1884.2" fill="none" stroke="#913541" stroke-width="5.8" stroke-linejoin="round"/>
<line x1="1858.1" y1="1788.8" x2="3327.4" y2="1788.8" stroke="#dcdcdc" stroke-width="4" stroke-dasharray="8,4"/>
<text x="1837.1" y="1803.4" text-anchor="end" font-size="45.8" fill="#5b5b5b">750M</text>
<line x1="1858.1" y1="1914.5" x2="3327.4" y2="1914.5" stroke="#dcdcdc" stroke-width="4" stroke-dasharray="8,4"/>
<text x="1837.1" y="1929.1" text-anchor="end" font-size="45.8" fill="#5b5b5b">700M</text>
<line x1="1858.1" y1="2040.6" x2="3327.4" y2="2040.6" stroke="#dcdcdc" stroke-width="4" stroke-dasharray="8,4"/>
<text x="1837.1" y="2055.2" text-anchor="end" font-size="45.8" fill="#5b5b5b">650M</text>
<rect x="1856.1" y="2130.7" width="4" height="22" fill="#9a9a9a"/>
<text x="1858.1" y="2196.7" text-anchor="start" font-size="45.8" fill="#5b5b5b">2024</text>
<rect x="2165.4" y="2130.7" width="4" height="22" fill="#9a9a9a"/>
<text x="2167.4" y="2196.7" text-anchor="middle" font-size="45.8" fill="#5b5b5b">2040</text>
<rect x="2358.8" y="2130.7" width="4" height="22" fill="#9a9a9a"/>
<text x="2360.8" y="2196.7" text-anchor="middle" font-size="45.8" fill="#5b5b5b">2050</text>
<rect x="2552.1" y="2130.7" width="4" height="22" fill="#9a9a9a"/>
<text x="2554.1" y="2196.7" text-anchor="middle" font-size="45.8" fill="#5b5b5b">2060</text>
<rect x="2745.4" y="2130.7" width="4" height="22" fill="#9a9a9a"/>
<text x="2747.4" y="2196.7" text-anchor="middle" font-size="45.8" fill="#5b5b5b">2070</text>
<rect x="2938.7" y="2130.7" width="4" height="22" fill="#9a9a9a"/>
<text x="2940.7" y="2196.7" text-anchor="middle" font-size="45.8" fill="#5b5b5b">2080</text>
<rect x="3132.1" y="2130.7" width="4" height="22" fill="#9a9a9a"/>
<text x="3134.1" y="2196.7" text-anchor="middle" font-size="45.8" fill="#5b5b5b">2090</text>
<rect x="3325.4" y="2130.7" width="4" height="22" fill="#9a9a9a"/>
<text x="3328.4" y="2196.7" text-anchor="end" font-size="45.8" fill="#5b5b5b">2100</text>
<path d="M1858.1,2005.6L1877.4,1995.7L1896.8,1985.9L1916.1,1976.1L1935.4,1966.5L1954.8,1957.1L1974.1,1948.0L1993.4,1939.3L2012.8,1930.8L2032.1,1922.7L2051.4,1914.9L2070.8,1907.4L2090.1,1900.3L2109.4,1893.5L2128.8,1887.0L2148.1,1880.9L2167.4,1875.2L2186.8,1869.8L2206.1,1864.8L2225.4,1860.3L2244.8,1856.1L2264.1,1852.4L2283.4,1849.1L2302.8,1846.2L2322.1,1843.7L2341.4,1841.7L2360.8,1840.1L2380.1,1838.9L2399.4,1838.2L2418.8,1837.8L2438.1,1837.8L2457.4,1838.3L2476.8,1839.1L2496.1,1840.2L2515.4,1841.7L2534.8,1843.6L2554.1,1845.8L2573.4,1848.4L2592.8,1851.3L2612.1,1854.6L2631.4,1858.2L2650.7,1862.1L2670.1,1866.4L2689.4,1870.9L2708.7,1875.8L2728.1,1881.0L2747.4,1886.4L2766.7,1892.1L2786.1,1898.0L2805.4,1904.2L2824.7,1910.6L2844.1,1917.3L2863.4,1924.2L2882.7,1931.3L2902.1,1938.7L2921.4,1946.3L2940.7,1954.1L2960.1,1962.2L2979.4,1970.5L2998.7,1979.0L3018.1,1987.7L3037.4,1996.4L3056.7,2005.3L3076.1,2014.3L3095.4,2023.3L3114.7,2032.4L3134.1,2041.5L3153.4,2050.7L3172.7,2059.8L3192.1,2068.9L3211.4,2077.9L3230.7,2087.0L3250.1,2095.9L3269.4,2104.9L3288.7,2113.8L3308.1,2122.6L3327.4,2131.5" fill="none" stroke="#fff" stroke-width="9.0" stroke-linejoin="round"/>
<path d="M1858.1,2005.6L1877.4,1995.7L1896.8,1985.9L1916.1,1976.1L1935.4,1966.5L1954.8,1957.1L1974.1,1948.0L1993.4,1939.3L2012.8,1930.8L2032.1,1922.7L2051.4,1914.9L2070.8,1907.4L2090.1,1900.3L2109.4,1893.5L2128.8,1887.0L2148.1,1880.9L2167.4,1875.2L2186.8,1869.8L2206.1,1864.8L2225.4,1860.3L2244.8,1856.1L2264.1,1852.4L2283.4,1849.1L2302.8,1846.2L2322.1,1843.7L2341.4,1841.7L2360.8,1840.1L2380.1,1838.9L2399.4,1838.2L2418.8,1837.8L2438.1,1837.8L2457.4,1838.3L2476.8,1839.1L2496.1,1840.2L2515.4,1841.7L2534.8,1843.6L2554.1,1845.8L2573.4,1848.4L2592.8,1851.3L2612.1,1854.6L2631.4,1858.2L2650.7,1862.1L2670.1,1866.4L2689.4,1870.9L2708.7,1875.8L2728.1,1881.0L2747.4,1886.4L2766.7,1892.1L2786.1,1898.0L2805.4,1904.2L2824.7,1910.6L2844.1,1917.3L2863.4,1924.2L2882.7,1931.3L2902.1,1938.7L2921.4,1946.3L2940.7,1954.1L2960.1,1962.2L2979.4,1970.5L2998.7,1979.0L3018.1,1987.7L3037.4,1996.4L3056.7,2005.3L3076.1,2014.3L3095.4,2023.3L3114.7,2032.4L3134.1,2041.5L3153.4,2050.7L3172.7,2059.8L3192.1,2068.9L3211.4,2077.9L3230.7,2087.0L3250.1,2095.9L3269.4,2104.9L3288.7,2113.8L3308.1,2122.6L3327.4,2131.5" fill="none" stroke="#2f63a5" stroke-width="5.8" stroke-linejoin="round"/>
<path d="M1858.1,1989.3L1877.4,1977.6L1896.8,1965.9L1916.1,1954.4L1935.4,1943.1L1954.8,1932.2L1974.1,1921.6L1993.4,1911.5L2012.8,1901.9L2032.1,1892.6L2051.4,1883.7L2070.8,1875.1L2090.1,1866.7L2109.4,1858.7L2128.8,1851.1L2148.1,1843.8L2167.4,1837.0L2186.8,1830.6L2206.1,1824.7L2225.4,1819.2L2244.8,1814.2L2264.1,1809.6L2283.4,1805.4L2302.8,1801.6L2322.1,1798.2L2341.4,1795.2L2360.8,1792.6L2380.1,1790.4L2399.4,1788.5L2418.8,1787.1L2438.1,1786.0L2457.4,1785.3L2476.8,1785.0L2496.1,1785.1L2515.4,1785.5L2534.8,1786.3L2554.1,1787.4L2573.4,1788.9L2592.8,1790.8L2612.1,1793.0L2631.4,1795.5L2650.7,1798.4L2670.1,1801.7L2689.4,1805.2L2708.7,1809.1L2728.1,1813.2L2747.4,1817.7L2766.7,1822.5L2786.1,1827.5L2805.4,1832.9L2824.7,1838.5L2844.1,1844.4L2863.4,1850.7L2882.7,1857.1L2902.1,1863.8L2921.4,1870.8L2940.7,1877.9L2960.1,1885.2L2979.4,1892.7L2998.7,1900.4L3018.1,1908.2L3037.4,1916.2L3056.7,1924.3L3076.1,1932.6L3095.4,1941.0L3114.7,1949.5L3134.1,1958.1L3153.4,1966.8L3172.7,1975.5L3192.1,1984.2L3211.4,1993.0L3230.7,2001.9L3250.1,2010.8L3269.4,2019.7L3288.7,2028.6L3308.1,2037.6L3327.4,2046.6" fill="none" stroke="#fff" stroke-width="9.0" stroke-linejoin="round"/>
<path d="M1858.1,1989.3L1877.4,1977.6L1896.8,1965.9L1916.1,1954.4L1935.4,1943.1L1954.8,1932.2L1974.1,1921.6L1993.4,1911.5L2012.8,1901.9L2032.1,1892.6L2051.4,1883.7L2070.8,1875.1L2090.1,1866.7L2109.4,1858.7L2128.8,1851.1L2148.1,1843.8L2167.4,1837.0L2186.8,1830.6L2206.1,1824.7L2225.4,1819.2L2244.8,1814.2L2264.1,1809.6L2283.4,1805.4L2302.8,1801.6L2322.1,1798.2L2341.4,1795.2L2360.8,1792.6L2380.1,1790.4L2399.4,1788.5L2418.8,1787.1L2438.1,1786.0L2457.4,1785.3L2476.8,1785.0L2496.1,1785.1L2515.4,1785.5L2534.8,1786.3L2554.1,1787.4L2573.4,1788.9L2592.8,1790.8L2612.1,1793.0L2631.4,1795.5L2650.7,1798.4L2670.1,1801.7L2689.4,1805.2L2708.7,1809.1L2728.1,1813.2L2747.4,1817.7L2766.7,1822.5L2786.1,1827.5L2805.4,1832.9L2824.7,1838.5L2844.1,1844.4L2863.4,1850.7L2882.7,1857.1L2902.1,1863.8L2921.4,1870.8L2940.7,1877.9L2960.1,1885.2L2979.4,1892.7L2998.7,1900.4L3018.1,1908.2L3037.4,1916.2L3056.7,1924.3L3076.1,1932.6L3095.4,1941.0L3114.7,1949.5L3134.1,1958.1L3153.4,1966.8L3172.7,1975.5L3192.1,1984.2L3211.4,1993.0L3230.7,2001.9L3250.1,2010.8L3269.4,2019.7L3288.7,2028.6L3308.1,2037.6L3327.4,2046.6" fill="none" stroke="#913541" stroke-width="5.8" stroke-linejoin="round"/>
<text x="196.00" y="547.4" font-size="61" font-weight="bold" fill="#1d3d63" textLength="160.80" lengthAdjust="spacingAndGlyphs">World</text>
<text x="1856.60" y="547.4" font-size="61" font-weight="bold" fill="#1d3d63" textLength="156.20" lengthAdjust="spacingAndGlyphs">Africa</text>
<text x="2025.60" y="547.4" font-size="61" font-weight="bold" fill="#1d3d63" textLength="124.30" lengthAdjust="spacingAndGlyphs">(UN)</text>
<text x="193.10" y="1139.4" font-size="61" font-weight="bold" fill="#1d3d63" textLength="109.40" lengthAdjust="spacingAndGlyphs">Asia</text>
<text x="315.00" y="1139.4" font-size="61" font-weight="bold" fill="#1d3d63" textLength="125.60" lengthAdjust="spacingAndGlyphs">(UN)</text>
<text x="1858.10" y="1139.4" font-size="61" font-weight="bold" fill="#1d3d63" textLength="183.50" lengthAdjust="spacingAndGlyphs">Europe</text>
<text x="2054.50" y="1139.4" font-size="61" font-weight="bold" fill="#1d3d63" textLength="124.50" lengthAdjust="spacingAndGlyphs">(UN)</text>
<text x="194.20" y="1731.5" font-size="61" font-weight="bold" fill="#1d3d63" textLength="239.30" lengthAdjust="spacingAndGlyphs">Northern</text>
<text x="446.50" y="1731.5" font-size="61" font-weight="bold" fill="#1d3d63" textLength="211.70" lengthAdjust="spacingAndGlyphs">America</text>
<text x="675.90" y="1731.5" font-size="61" font-weight="bold" fill="#1d3d63" textLength="121.00" lengthAdjust="spacingAndGlyphs">(UN)</text>
<text x="1858.90" y="1731.5" font-size="61" font-weight="bold" fill="#1d3d63" textLength="130.50" lengthAdjust="spacingAndGlyphs">Latin</text>
<text x="2001.60" y="1731.5" font-size="61" font-weight="bold" fill="#1d3d63" textLength="212.20" lengthAdjust="spacingAndGlyphs">America</text>
<text x="2230.70" y="1731.5" font-size="61" font-weight="bold" fill="#1d3d63" textLength="96.20" lengthAdjust="spacingAndGlyphs">and</text>
<text x="2340.80" y="1731.5" font-size="61" font-weight="bold" fill="#1d3d63" textLength="84.90" lengthAdjust="spacingAndGlyphs">the</text>
<text x="2439.60" y="1731.5" font-size="61" font-weight="bold" fill="#1d3d63" textLength="267.10" lengthAdjust="spacingAndGlyphs">Caribbean</text>
<text x="2718.60" y="1731.5" font-size="61" font-weight="bold" fill="#1d3d63" textLength="124.00" lengthAdjust="spacingAndGlyphs">(UN)</text>
<text x="65.00" y="2323.8" font-size="57" font-weight="bold" fill="#5b5b5b" textLength="302.10" lengthAdjust="spacingAndGlyphs">Data source:</text>
<text x="379.00" y="2323.8" font-size="57" fill="#5b5b5b" textLength="96.30" lengthAdjust="spacingAndGlyphs">UN,</text>
<text x="488.60" y="2323.8" font-size="57" fill="#5b5b5b" textLength="143.30" lengthAdjust="spacingAndGlyphs">World</text>
<text x="646.10" y="2323.8" font-size="57" fill="#5b5b5b" textLength="255.90" lengthAdjust="spacingAndGlyphs">Population</text>
<text x="914.30" y="2323.8" font-size="57" fill="#5b5b5b" textLength="233.50" lengthAdjust="spacingAndGlyphs">Prospects</text>
<text x="1158.20" y="2323.8" font-size="57" fill="#5b5b5b" textLength="158.50" lengthAdjust="spacingAndGlyphs">(2022)</text>
<text x="1327.30" y="2323.8" font-size="57" fill="#5b5b5b" textLength="88.10" lengthAdjust="spacingAndGlyphs">and</text>
<text x="1426.30" y="2323.8" font-size="57" fill="#5b5b5b" textLength="158.50" lengthAdjust="spacingAndGlyphs">(2024)</text>
<text x="2195.50" y="2323.7" font-size="57" fill="#5b5b5b" textLength="509.70" lengthAdjust="spacingAndGlyphs">OurWorldInData.org/</text>
<text x="2712.00" y="2323.7" font-size="57" fill="#5b5b5b" textLength="437.00" lengthAdjust="spacingAndGlyphs">population-growth</text>
<text x="3162.40" y="2323.7" font-size="57" fill="#5b5b5b" textLength="12.90" lengthAdjust="spacingAndGlyphs">|</text>
<text x="3189.40" y="2323.7" font-size="57" fill="#5b5b5b" textLength="72.90" lengthAdjust="spacingAndGlyphs">CC</text>
<text x="3275.20" y="2323.7" font-size="57" fill="#5b5b5b" textLength="68.00" lengthAdjust="spacingAndGlyphs">BY</text>
</svg></body></html>
